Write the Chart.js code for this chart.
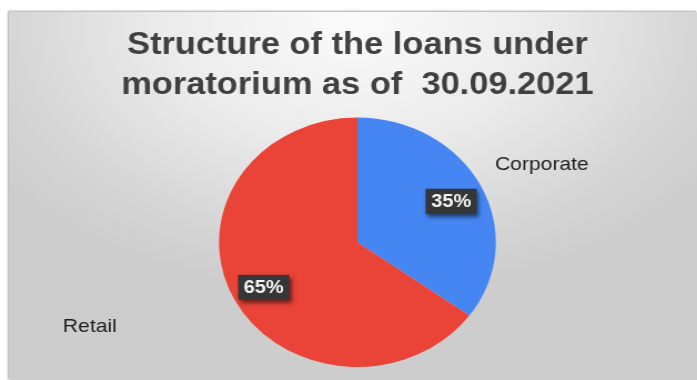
<!DOCTYPE html>
<html lang="en">
<head>
    <meta charset="UTF-8">
    <title>Structure of the loans under moratorium</title>
    <script src="https://cdn.jsdelivr.net/npm/chart.js"></script>
    <style>
        html, body {
            margin: 0;
            width: 697px;
            height: 380px;
            overflow: hidden;
            background: #fff;
        }

        /* grey slide panel behind the chart */
        .panel {
            position: absolute;
            left: 9px;
            top: 12px;
            width: 688px;
            height: 368px;
            background: radial-gradient(ellipse 62% 75% at 50% 2%, #fbfbfb 0%, #ebebeb 45%, #d6d6d6 80%, #cdcdcd 100%);
            box-shadow: -1px -1px 2px rgba(0, 0, 0, 0.35);
        }

        /* the source picture is stretched horizontally, so is the chart */
        .wrap {
            position: absolute;
            left: 0;
            top: 0;
            width: 628px;
            height: 380px;
            transform: scaleX(1.11);
            transform-origin: 0 0;
        }
    </style>
</head>
<body>
    <div class="panel"></div>
    <div class="wrap">
        <canvas id="loansChart"></canvas>
    </div>

    <script>
        // Data
        const categories = ['Corporate', 'Retail'];
        const shares = [35, 65];
        const sliceColors = ['#4686f2', '#ea4337'];
        const titleLines = ['Structure of the loans under', 'moratorium as of  30.09.2021'];

        const font = '"Liberation Sans", Arial, sans-serif';

        // Draws the dark percent boxes and the category names round the pie
        const sliceLabels = {
            id: 'sliceLabels',
            afterDatasetsDraw(chart, args, opts) {
                const ctx = chart.ctx;
                const meta = chart.getDatasetMeta(0);
                const values = chart.data.datasets[0].data;
                const total = values.reduce((a, b) => a + b, 0);

                meta.data.forEach((arc, i) => {
                    const p = arc.getProps(['x', 'y', 'startAngle', 'endAngle', 'outerRadius'], true);
                    const mid = (p.startAngle + p.endAngle) / 2;

                    // percent box
                    const pr = p.outerRadius * opts.percentAt;
                    const px = p.x + Math.cos(mid) * pr;
                    const py = p.y + Math.sin(mid) * pr + 2;
                    const text = Math.round(values[i] / total * 100) + '%';
                    ctx.save();
                    ctx.font = 'bold 18px ' + font;
                    const w = ctx.measureText(text).width + 10;
                    const h = 25;
                    ctx.shadowColor = 'rgba(0, 0, 0, 0.55)';
                    ctx.shadowBlur = 4;
                    ctx.shadowOffsetX = 2;
                    ctx.shadowOffsetY = 3;
                    ctx.fillStyle = '#363636';
                    ctx.fillRect(px - w / 2, py - h / 2, w, h);
                    ctx.shadowColor = 'transparent';
                    ctx.fillStyle = '#f4f4f4';
                    ctx.textAlign = 'center';
                    ctx.textBaseline = 'middle';
                    ctx.fillText(text, px, py + 1);
                    ctx.restore();

                    // category name outside, placed by angle and distance
                    const [deg, dist] = opts.namePos[i];
                    const a = deg * Math.PI / 180;
                    const cx = p.x + Math.cos(a) * p.outerRadius * dist;
                    const cy = p.y + Math.sin(a) * p.outerRadius * dist;
                    ctx.save();
                    ctx.font = '19px ' + font;
                    ctx.fillStyle = '#1e1e1e';
                    ctx.textAlign = 'center';
                    ctx.textBaseline = 'middle';
                    ctx.fillText(chart.data.labels[i], cx, cy);
                    ctx.restore();
                });
            }
        };

        new Chart(document.getElementById('loansChart'), {
            type: 'pie',
            data: {
                labels: categories,
                datasets: [{
                    data: shares,
                    backgroundColor: sliceColors,
                    borderWidth: 0
                }]
            },
            options: {
                responsive: true,
                maintainAspectRatio: false,
                animation: false,
                layout: {
                    padding: { left: 100, right: 84, top: 0, bottom: 13 }
                },
                plugins: {
                    legend: { display: false },
                    tooltip: { enabled: false },
                    title: {
                        display: true,
                        text: titleLines,
                        color: '#404040',
                        font: { family: font, size: 31, weight: 'bold', lineHeight: 1.3 },
                        padding: { top: 25, bottom: 12 }
                    },
                    sliceLabels: {
                        percentAt: 0.76,
                        namePos: [[-25, 1.47], [160.6, 2.05]]
                    }
                }
            },
            plugins: [sliceLabels]
        });
    </script>
</body>
</html>
